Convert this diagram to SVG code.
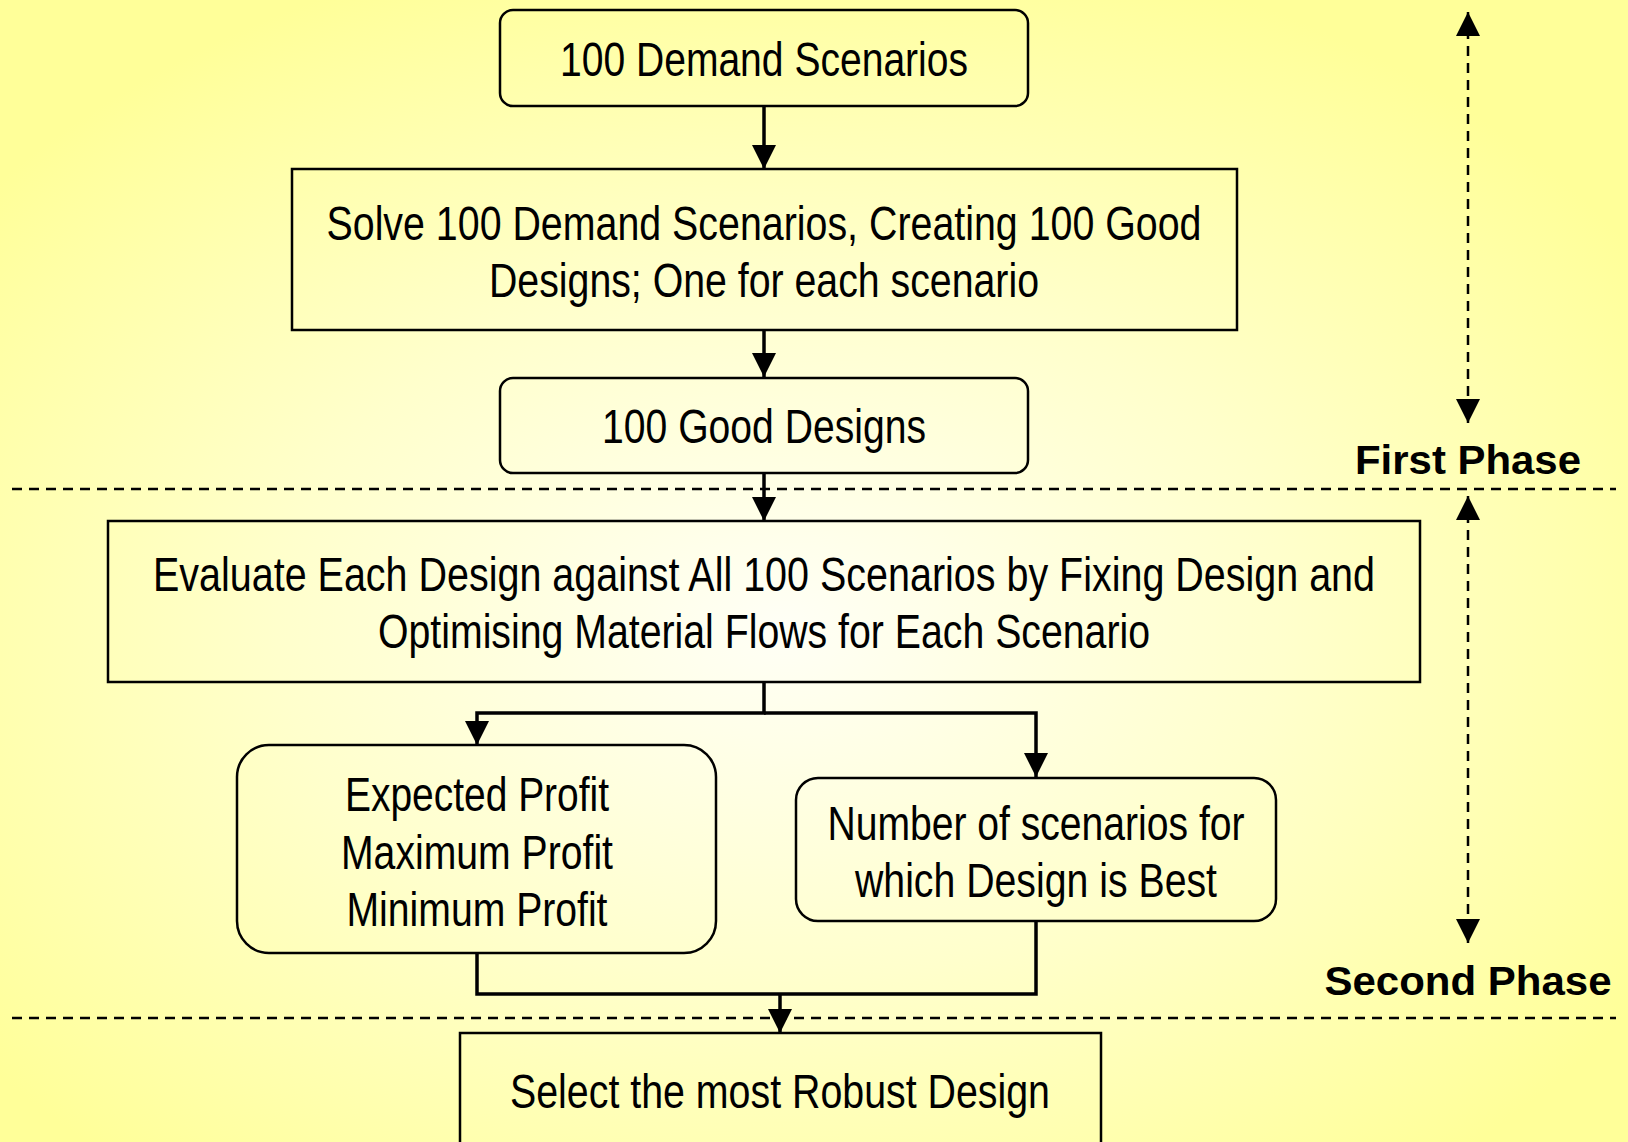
<svg xmlns="http://www.w3.org/2000/svg" width="1628" height="1142" viewBox="0 0 1628 1142">
<defs>
<radialGradient id="bg" cx="0.48" cy="0.55" r="0.62">
<stop offset="0" stop-color="#FFFFF6"/>
<stop offset="0.5" stop-color="#FFFFCC"/>
<stop offset="1" stop-color="#FFFF99"/>
</radialGradient>
<marker id="ah" markerUnits="userSpaceOnUse" markerWidth="24" markerHeight="24" viewBox="0 0 24 24" refX="24" refY="12" orient="auto-start-reverse">
<path d="M0,0 L24,12 L0,24 Z" fill="#000"/>
</marker>
</defs>
<style>
.box{fill:none;stroke:#000;stroke-width:2.5}
.t{font-family:"Liberation Sans Narrow","Liberation Sans",Arial,sans-serif;font-size:48px;fill:#000;text-anchor:middle}
.ph{font-family:"Liberation Sans",Arial,sans-serif;font-size:40px;font-weight:bold;fill:#000;text-anchor:middle}
.c{fill:none;stroke:#000;stroke-width:3.5}
.d{fill:none;stroke:#000;stroke-width:2.5;stroke-dasharray:10 7}
</style>
<rect x="0" y="0" width="1628" height="1142" fill="url(#bg)"/>
<g id="separators">
<line class="d" x1="12" y1="489" x2="1616" y2="489"/>
<line class="d" x1="12" y1="1018" x2="1616" y2="1018"/>
</g>
<g id="connectors">
<path class="c" d="M764,106 V169" marker-end="url(#ah)"/>
<path class="c" d="M764,330 V377" marker-end="url(#ah)"/>
<path class="c" d="M764,473 V521" marker-end="url(#ah)"/>
<path class="c" d="M764,682 V713 H477 V745" marker-end="url(#ah)"/>
<path class="c" d="M764,713 H1036 V777" marker-end="url(#ah)"/>
<path class="c" d="M477,953 V994 H1036 V921"/>
<path class="c" d="M780,994 V1033" marker-end="url(#ah)"/>
<path class="d" d="M1468,12 V423" marker-start="url(#ah)" marker-end="url(#ah)"/>
<path class="d" d="M1468,496 V943" marker-start="url(#ah)" marker-end="url(#ah)"/>
</g>
<g id="n1">
<rect class="box" x="500" y="10" width="528" height="96" rx="13"/>
<text class="t" x="764" y="76" textLength="408" lengthAdjust="spacingAndGlyphs">100 Demand Scenarios</text>
</g>
<g id="n2">
<rect class="box" x="292" y="169" width="945" height="161"/>
<text class="t" x="764" y="240" textLength="875" lengthAdjust="spacingAndGlyphs">Solve 100 Demand Scenarios, Creating 100 Good</text>
<text class="t" x="764" y="297" textLength="550" lengthAdjust="spacingAndGlyphs">Designs; One for each scenario</text>
</g>
<g id="n3">
<rect class="box" x="500" y="378" width="528" height="95" rx="13"/>
<text class="t" x="764" y="443" textLength="324" lengthAdjust="spacingAndGlyphs">100 Good Designs</text>
</g>
<g id="n4">
<rect class="box" x="108" y="521" width="1312" height="161"/>
<text class="t" x="764" y="591" textLength="1222" lengthAdjust="spacingAndGlyphs">Evaluate Each Design against All 100 Scenarios by Fixing Design and</text>
<text class="t" x="764" y="648" textLength="772" lengthAdjust="spacingAndGlyphs">Optimising Material Flows for Each Scenario</text>
</g>
<g id="n5">
<rect class="box" x="237" y="745" width="479" height="208" rx="32"/>
<text class="t" x="477" y="811" textLength="264" lengthAdjust="spacingAndGlyphs">Expected Profit</text>
<text class="t" x="477" y="869" textLength="272" lengthAdjust="spacingAndGlyphs">Maximum Profit</text>
<text class="t" x="477" y="926" textLength="261" lengthAdjust="spacingAndGlyphs">Minimum Profit</text>
</g>
<g id="n6">
<rect class="box" x="796" y="778" width="480" height="143" rx="22"/>
<text class="t" x="1036" y="840" textLength="417" lengthAdjust="spacingAndGlyphs">Number of scenarios for</text>
<text class="t" x="1036" y="897" textLength="362" lengthAdjust="spacingAndGlyphs">which Design is Best</text>
</g>
<g id="n7">
<rect class="box" x="460" y="1033" width="641" height="130"/>
<text class="t" x="780" y="1108" textLength="540" lengthAdjust="spacingAndGlyphs">Select the most Robust Design</text>
</g>
<g id="labels">
<text class="ph" x="1468" y="474" textLength="226" lengthAdjust="spacingAndGlyphs">First Phase</text>
<text class="ph" x="1468" y="995" textLength="287" lengthAdjust="spacingAndGlyphs">Second Phase</text>
</g>
</svg>
